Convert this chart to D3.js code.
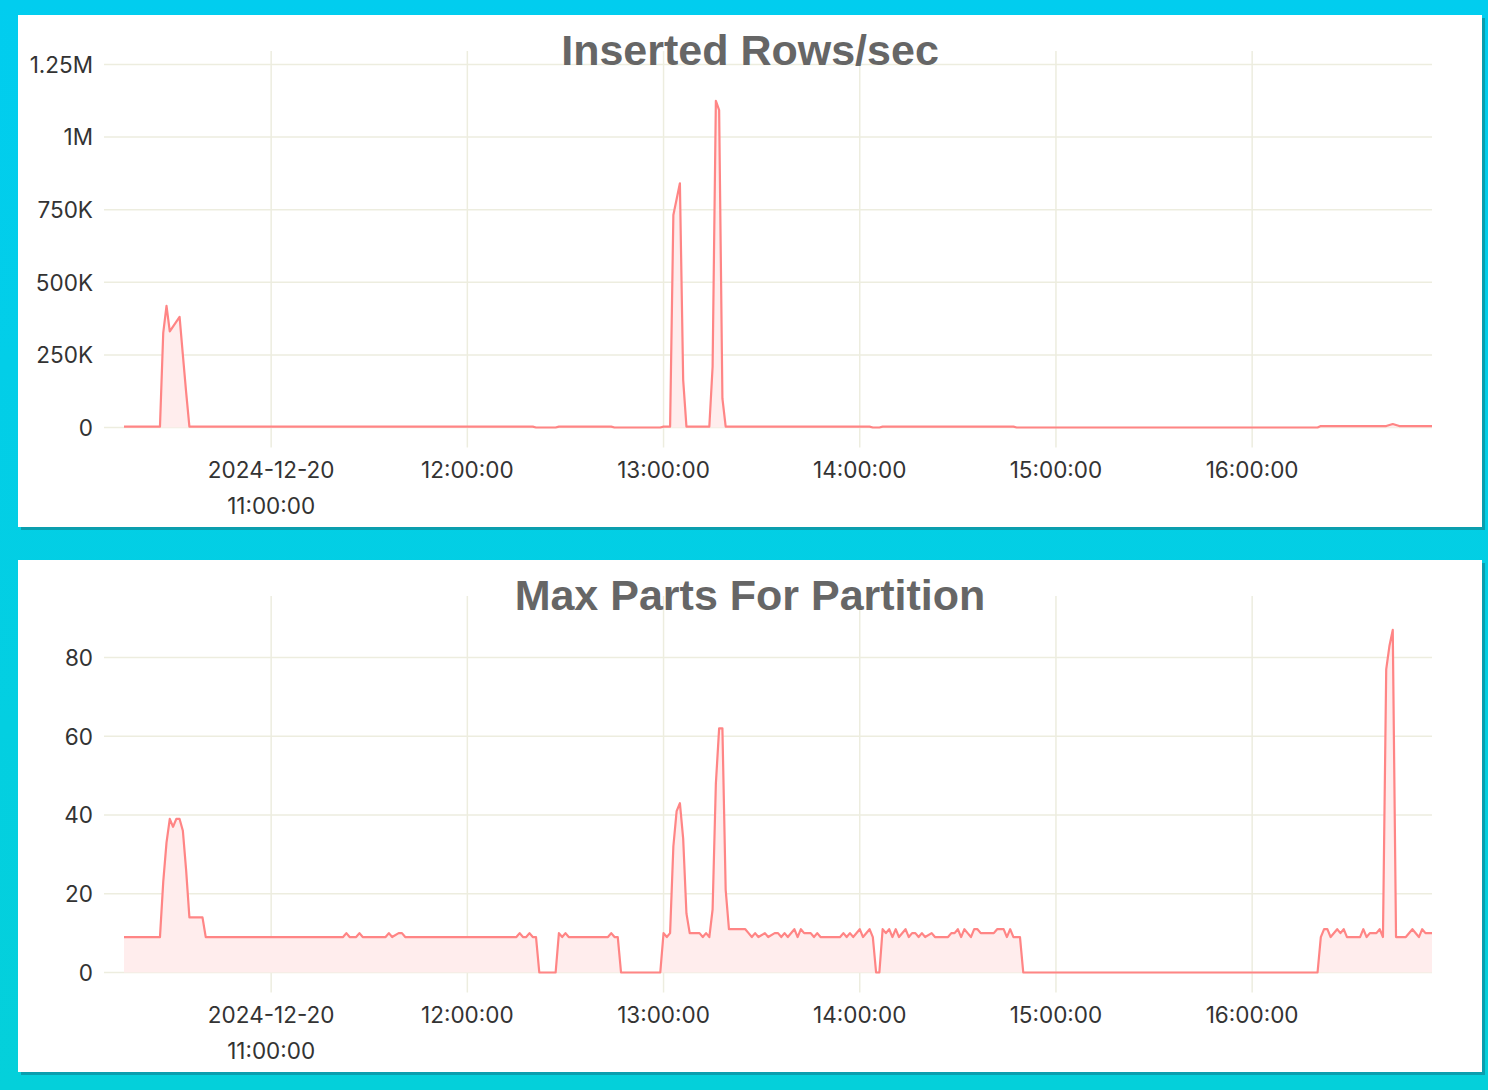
<!DOCTYPE html>
<html>
<head>
<meta charset="utf-8">
<script src="https://cdn.jsdelivr.net/npm/d3@7"></script>
<style>
  html, body { margin: 0; padding: 0; background: #02cdea; }
  svg { display: block; }
</style>
</head>
<body>
<svg id="chart" width="1488" height="1090"></svg>
<script>
// minutes after 2024-12-20 10:15 (UTC), one sample per minute, only the corners are listed
const rowsMinutes = [0, 11, 12, 13, 14, 17, 18, 19, 20, 125, 126, 132, 133, 149, 150, 164, 165,
  167, 168, 170, 171, 172, 179, 180, 181, 182, 183, 184, 228, 229, 231, 232, 272, 273,
  365, 366, 386, 388, 390, 400];
const rowsValues = [3000, 3000, 326000, 419000, 331000, 381000, 250000, 122000, 3000, 3000, 0, 0, 3000, 3000, 0, 0, 3000,
  3000, 732000, 841000, 164000, 3000, 3000, 209000, 1125000, 1093000, 100000, 3000, 3000, 0, 0, 3000, 3000, 0,
  0, 5000, 5000, 12000, 5000, 5000];

const partsMinutes = [0, 11, 12, 13, 14, 15, 16, 17, 18, 19, 20, 24, 25,
  67, 68, 69, 71, 72, 73, 80, 81, 82, 84, 85, 86,
  120, 121, 122, 123, 124, 125, 126, 127, 132, 133, 134, 135, 136, 148, 149, 150, 151, 152,
  164, 165, 166, 167, 168, 169, 170, 171, 172, 173, 176, 177, 178, 179, 180, 181, 182, 183, 184, 185,
  190, 191, 192, 193, 194, 196, 197, 199, 200, 201, 202, 203, 205, 206, 207, 208, 210, 211, 212, 213,
  219, 220, 221, 222, 223, 225, 226, 228, 229, 230, 231, 232, 233, 234, 235, 236, 237, 239, 240,
  241, 242, 243, 244, 245, 247, 248, 252, 253, 254, 255, 256, 257, 258, 259, 260, 261, 262,
  266, 267, 269, 270, 271, 272, 274, 275, 365, 366, 367, 368, 369, 371, 372, 373, 374, 378,
  379, 380, 381, 383, 384, 385, 386, 387, 388, 389, 392, 394, 396, 397, 398, 400];
const partsValues = [9, 9, 23, 33, 39, 37, 39, 39, 36, 26, 14, 14, 9,
  9, 10, 9, 9, 10, 9, 9, 10, 9, 10, 10, 9,
  9, 10, 9, 9, 10, 9, 9, 0, 0, 10, 9, 10, 9, 9, 10, 9, 9, 0,
  0, 10, 9, 10, 32, 41, 43, 34, 15, 10, 10, 9, 10, 9, 16, 48, 62, 62, 21, 11,
  11, 10, 9, 10, 9, 10, 9, 10, 10, 9, 10, 9, 11, 9, 11, 10, 10, 9, 10, 9,
  9, 10, 9, 10, 9, 11, 9, 11, 9, 0, 0, 11, 10, 11, 9, 11, 9, 11, 9,
  10, 10, 9, 10, 9, 10, 9, 9, 10, 10, 11, 9, 11, 10, 9, 11, 11, 10,
  10, 11, 11, 9, 11, 9, 9, 0, 0, 9, 11, 11, 9, 11, 10, 11, 9, 9,
  11, 9, 10, 10, 11, 9, 77, 83, 87, 9, 9, 11, 9, 11, 10, 10];

const rowsTicks = [0, 250000, 500000, 750000, 1000000, 1250000];
const rowsTickLabels = ['0', '250K', '500K', '750K', '1M', '1.25M'];
const partsTicks = [0, 20, 40, 60, 80];
const partsTickLabels = ['0', '20', '40', '60', '80'];
const titles = ['Inserted Rows/sec', 'Max Parts For Partition'];

const start = Date.UTC(2024, 11, 20, 10, 15);
const toDate = m => new Date(start + m * 60000);

const svg = d3.select('#chart');
const W = 1488, H = 1090;

const defs = svg.append('defs');
const grad = defs.append('linearGradient').attr('id', 'bg')
  .attr('x1', 0).attr('y1', 0).attr('x2', 0).attr('y2', 1);
grad.append('stop').attr('offset', '0%').attr('stop-color', '#01cdef');
grad.append('stop').attr('offset', '100%').attr('stop-color', '#04d0da');
svg.append('rect').attr('width', W).attr('height', H).attr('fill', 'url(#bg)');

const x = d3.scaleUtc()
  .domain([toDate(0), toDate(400)])
  .range([124, 1432]);
const hourTicks = d3.utcHour.range(toDate(30), toDate(400));
const fmtDay = d3.utcFormat('%Y-%m-%d');
const fmtTime = d3.utcFormat('%H:%M:%S');

const panels = [
  {top: 15, title: titles[0], minutes: rowsMinutes, values: rowsValues,
   ticks: rowsTicks, labels: rowsTickLabels, max: 1250000, maxY: 49.5},
  {top: 560, title: titles[1], minutes: partsMinutes, values: partsValues,
   ticks: partsTicks, labels: partsTickLabels, max: 80, maxY: 97.5}
];

const labelFont = 'Inter, "Noto Sans", sans-serif';

panels.forEach(p => {
  const g = svg.append('g');
  const zeroY = p.top + 412.5;
  // panel with its shadow
  g.append('rect').attr('x', 21).attr('y', p.top + 3).attr('width', 1464).attr('height', 512)
    .attr('fill', '#0a9eae');
  g.append('rect').attr('x', 18).attr('y', p.top).attr('width', 1464).attr('height', 512)
    .attr('fill', '#ffffff');

  const y = d3.scaleLinear().domain([0, p.max]).range([zeroY, p.top + p.maxY]);

  // grid
  g.append('g').selectAll('line').data(p.ticks).join('line')
    .attr('x1', 104).attr('x2', 1432)
    .attr('y1', d => y(d)).attr('y2', d => y(d))
    .attr('stroke', '#ededdf').attr('stroke-width', 1.5);
  g.append('g').selectAll('line').data(hourTicks).join('line')
    .attr('x1', d => x(d)).attr('x2', d => x(d))
    .attr('y1', p.top + 36).attr('y2', zeroY + 20)
    .attr('stroke', '#ededdf').attr('stroke-width', 1.5);

  // y labels
  g.append('g').selectAll('text').data(p.ticks).join('text')
    .attr('x', 93).attr('y', d => y(d)).attr('dy', '0.37em')
    .attr('text-anchor', 'end')
    .attr('font-family', labelFont).attr('font-size', 22.5)
    .attr('fill', '#333')
    .text((d, i) => p.labels[i]);

  // x labels
  const xl = g.append('g').selectAll('text').data(hourTicks).join('text')
    .attr('x', d => x(d)).attr('y', zeroY + 50.5)
    .attr('text-anchor', 'middle')
    .attr('font-family', labelFont).attr('font-size', 22.5)
    .attr('fill', '#333');
  xl.each(function(d, i) {
    const t = d3.select(this);
    if (i === 0) {
      t.append('tspan').attr('x', x(d)).text(fmtDay(d));
      t.append('tspan').attr('x', x(d)).attr('dy', 36).text(fmtTime(d));
    } else {
      t.text(fmtTime(d));
    }
  });

  const data = p.minutes.map((m, i) => ({t: toDate(m), v: p.values[i]}));
  g.append('path').datum(data)
    .attr('fill', '#ffeded')
    .attr('d', d3.area().x(d => x(d.t)).y0(zeroY).y1(d => y(d.v)));
  g.append('path').datum(data)
    .attr('fill', 'none').attr('stroke', '#ff8585').attr('stroke-width', 2.2)
    .attr('stroke-linejoin', 'round')
    .attr('d', d3.line().x(d => x(d.t)).y(d => y(d.v)));

  // title
  g.append('text').attr('x', 750).attr('y', p.top + 50)
    .attr('text-anchor', 'middle')
    .attr('font-family', '"Liberation Sans", Arial, Helvetica, sans-serif')
    .attr('font-weight', 'bold').attr('font-size', 43)
    .attr('fill', '#666')
    .text(p.title);
});
</script>
</body>
</html>
